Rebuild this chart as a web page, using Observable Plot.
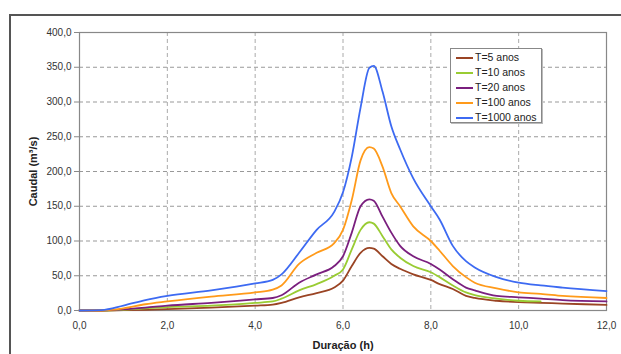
<!DOCTYPE html>
<html>
<head>
<meta charset="utf-8">
<script src="https://cdn.jsdelivr.net/npm/d3@7"></script>
<script src="https://cdn.jsdelivr.net/npm/@observablehq/plot@0.6"></script>
<style>
  body { margin: 0; background: white; }
  #wrap { position: relative; width: 621px; height: 354px; overflow: hidden; font-family: "Liberation Sans", Arial, sans-serif; }
  #frame { position: absolute; left: 9px; top: 14px; width: 700px; height: 400px; border: 2px solid #555; pointer-events: none; }
  #legend { position: absolute; left: 450px; top: 48px; width: 92px; height: 75px; border: 1px solid #888; background: white; box-shadow: 1px 1px 0 #bbb; font-size: 10.5px; color: #222; padding-top: 1px; box-sizing: border-box; }
  #legend .row { height: 15px; line-height: 15px; display: flex; align-items: center; white-space: nowrap; }
  #legend svg { margin-left: 5px; margin-right: 2px; }
  g[aria-label="y-axis label"] text, g[aria-label="x-axis label"] text { font-weight: bold; font-size: 11px; fill: #222; }
  g[aria-label="y-axis tick label"] text, g[aria-label="x-axis tick label"] text { fill: #333; }
</style>
</head>
<body>
<div id="wrap">
  <div id="chart"></div>
  <div id="legend"></div>
  <div id="frame"></div>
</div>
<script>
const duration = [0, 0.5, 1.0, 1.5, 2.0, 3.0, 4.0, 4.4, 4.6, 5.0, 5.4, 5.8, 6.0, 6.2, 6.4, 6.6, 6.7, 6.9, 7.1, 7.3, 7.6, 8.0, 8.2, 8.5, 8.8, 9.0, 9.5, 10.0, 10.5, 11.0, 12.0];
const seriesNames = ["T=5 anos", "T=10 anos", "T=20 anos", "T=100 anos", "T=1000 anos"];
const seriesColors = ["#9a4424", "#99cc33", "#7a1f7e", "#ff9a1a", "#3d6af2"];
const t5    = [0, 0, 0.5, 1, 2, 4, 7, 8.5, 11, 19, 25, 33, 43, 64, 83, 90, 89, 78, 67, 60, 52, 44, 38, 31, 21, 18, 14, 12, 11, 10, 8];
const t10   = [0, 0, 1, 3, 5, 7, 11, 13, 17, 29, 38, 50, 59, 88, 116, 127, 125, 107, 88, 76, 64, 55, 48, 36, 26, 22, 17, 14, 13, null, null];
const t20   = [0, 0, 1.5, 4, 7, 11, 16, 18, 22, 40, 52, 64, 78, 112, 150, 160, 158, 135, 112, 93, 78, 67, 59, 45, 33, 29, 21, 19, 17, 15, 13];
const t100  = [0, 0, 3, 9, 13, 20, 26, 30, 36, 67, 83, 97, 116, 159, 216, 235, 233, 207, 169, 150, 121, 100, 86, 64, 48, 40, 32, 26, 24, 21, 18];
const t1000 = [0, 0.5, 7, 15, 21, 29, 39, 44, 52, 83, 116, 142, 170, 221, 292, 349, 352, 315, 265, 232, 190, 150, 131, 93, 71, 62, 48, 40, 36, 33, 28];
const xTicks = [0, 2, 4, 6, 8, 10, 12];
const yTicks = [0, 50, 100, 150, 200, 250, 300, 350, 400];

const allSeries = [t5, t10, t20, t100, t1000];
const rows = [];
allSeries.forEach((vals, i) => {
  vals.forEach((v, j) => rows.push({ series: seriesNames[i], x: duration[j], y: v }));
});
const fmt = d => d.toFixed(1).replace(".", ",");

const plot = Plot.plot({
  width: 621,
  height: 354,
  marginLeft: 79,
  marginRight: 15,
  marginTop: 32,
  marginBottom: 44,
  style: { fontFamily: '"Liberation Sans", Arial, sans-serif', fontSize: "10px", background: "transparent", overflow: "visible" },
  x: { domain: [0, 12] },
  y: { domain: [0, 400] },
  color: { domain: seriesNames, range: seriesColors },
  marks: [
    Plot.ruleY(yTicks.slice(1, -1), { stroke: "#999", strokeDasharray: "4,3", strokeWidth: 1 }),
    Plot.ruleX(xTicks.slice(1, -1), { stroke: "#aaa", strokeDasharray: "4,3", strokeWidth: 1 }),
    Plot.frame({ stroke: "#888", strokeWidth: 1.2 }),
    Plot.line(rows, { x: "x", y: "y", z: "series", stroke: "series", strokeWidth: 1.8, curve: "monotone-x" }),
    Plot.axisY({ ticks: yTicks, tickFormat: fmt, tickSize: 5, tickPadding: 3, stroke: "#888", label: "Caudal (m³/s)", labelAnchor: "center", labelArrow: "none", labelOffset: 50 }),
    Plot.axisX({ ticks: xTicks, tickFormat: fmt, tickSize: 0, tickPadding: 11, label: "Duração (h)", labelAnchor: "center", labelArrow: "none", labelOffset: 38 })
  ]
});
document.getElementById("chart").appendChild(plot);

const legend = document.getElementById("legend");
seriesNames.forEach((name, i) => {
  const row = document.createElement("div");
  row.className = "row";
  row.innerHTML = `<svg width="17" height="4"><line x1="0" y1="2" x2="17" y2="2" stroke="${seriesColors[i]}" stroke-width="2"/></svg><span>${name}</span>`;
  legend.appendChild(row);
});
</script>
</body>
</html>
